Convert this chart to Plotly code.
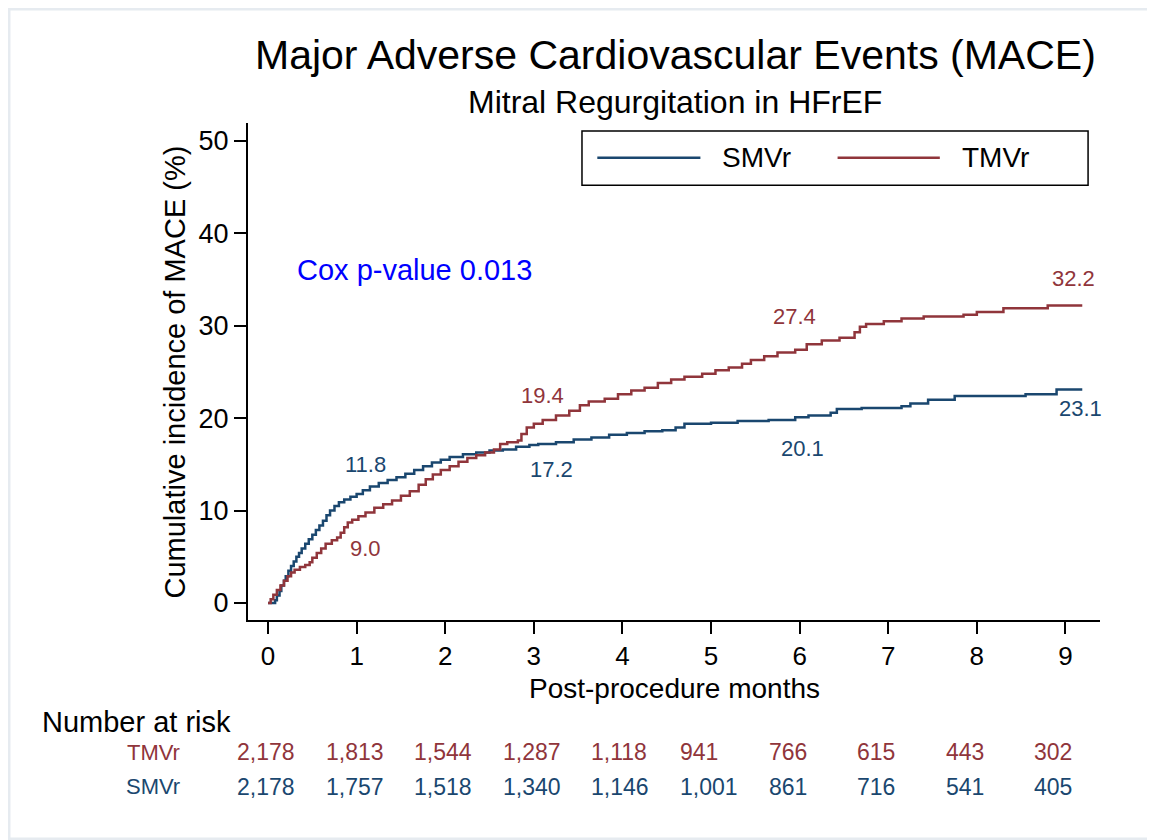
import plotly.graph_objects as go

# cumulative incidence step knots (months, %)
smvr_t = [0.00, 0.08, 0.10, 0.13, 0.15, 0.18, 0.20, 0.23, 0.26, 0.29, 0.32, 0.35, 0.38, 0.42,
          0.46, 0.50, 0.54, 0.58, 0.62, 0.66, 0.70, 0.75, 0.80, 0.86, 0.93, 1.00, 1.07, 1.15,
          1.25, 1.35, 1.45, 1.55, 1.65, 1.75, 1.85, 1.95, 2.05, 2.20, 2.35, 2.50, 2.65, 2.80,
          2.95, 3.05, 3.25, 3.45, 3.65, 3.85, 4.05, 4.25, 4.45, 4.60, 4.70, 5.00, 5.30, 5.65,
          5.95, 6.10, 6.35, 6.42, 6.70, 7.15, 7.25, 7.45, 7.75, 8.55, 8.90, 9.19]
smvr_y = [0.0, 0.3, 0.8, 1.3, 1.9, 2.4, 2.9, 3.5, 4.0, 4.5, 5.0, 5.4, 5.9, 6.4,
          6.9, 7.4, 7.9, 8.4, 8.9, 9.5, 10.0, 10.5, 10.9, 11.2, 11.5, 11.8, 12.2, 12.6,
          13.0, 13.3, 13.6, 14.0, 14.4, 14.8, 15.2, 15.5, 15.8, 16.1, 16.3, 16.5, 16.6, 16.9,
          17.1, 17.2, 17.4, 17.7, 17.9, 18.2, 18.4, 18.6, 18.7, 19.0, 19.4, 19.5, 19.7, 19.8,
          20.1, 20.3, 20.6, 21.0, 21.1, 21.3, 21.6, 22.0, 22.4, 22.6, 23.1, 23.1]

tmvr_t = [0.00, 0.03, 0.06, 0.10, 0.14, 0.18, 0.22, 0.26, 0.30, 0.36, 0.42, 0.47, 0.50, 0.55,
          0.60, 0.65, 0.72, 0.78, 0.82, 0.86, 0.90, 0.95, 1.02, 1.10, 1.20, 1.30, 1.40, 1.50,
          1.60, 1.70, 1.78, 1.86, 1.95, 2.05, 2.15, 2.25, 2.35, 2.45, 2.55, 2.62, 2.70, 2.82,
          2.86, 2.92, 3.00, 3.10, 3.25, 3.40, 3.52, 3.62, 3.80, 3.95, 4.10, 4.25, 4.40, 4.55,
          4.70, 4.90, 5.05, 5.20, 5.35, 5.45, 5.60, 5.75, 5.95, 6.08, 6.25, 6.45, 6.62, 6.68,
          6.75, 6.95, 7.15, 7.40, 7.85, 8.00, 8.30, 8.80, 9.19]
tmvr_y = [0.0, 0.4, 0.9, 1.4, 1.9, 2.4, 2.9, 3.3, 3.6, 3.9, 4.1, 4.4, 4.9, 5.4,
          5.9, 6.4, 6.8, 7.1, 7.6, 8.2, 8.7, 9.0, 9.4, 9.8, 10.3, 10.7, 11.1, 11.6,
          12.1, 12.8, 13.4, 13.9, 14.4, 14.8, 15.3, 15.7, 16.0, 16.3, 16.6, 17.2, 17.4, 17.6,
          18.3, 19.0, 19.4, 19.8, 20.3, 20.8, 21.4, 21.8, 22.1, 22.6, 23.0, 23.3, 23.8, 24.2,
          24.5, 24.8, 25.2, 25.5, 25.9, 26.3, 26.7, 27.1, 27.4, 28.0, 28.4, 28.7, 29.3, 29.9,
          30.2, 30.5, 30.8, 31.0, 31.2, 31.5, 31.9, 32.2, 32.2]

# values printed on the curves at 1, 3, 6 and 9 months
label_months = [1, 3, 6, 9]
smvr_labels = [11.8, 17.2, 20.1, 23.1]
tmvr_labels = [9.0, 19.4, 27.4, 32.2]

# number at risk
risk_months = [0, 1, 2, 3, 4, 5, 6, 7, 8, 9]
tmvr_risk = ["2,178", "1,813", "1,544", "1,287", "1,118", "941", "766", "615", "443", "302"]
smvr_risk = ["2,178", "1,757", "1,518", "1,340", "1,146", "1,001", "861", "716", "541", "405"]

BLUE = "#1a476f"
RED = "#90353b"
FONT = "Liberation Sans, Arial, sans-serif"

fig = go.Figure()

fig.add_trace(go.Scatter(x=smvr_t, y=smvr_y, mode="lines", line=dict(color=BLUE, width=2.5, shape="hv"),
                         name="SMVr", showlegend=False, hoverinfo="skip"))
fig.add_trace(go.Scatter(x=tmvr_t, y=tmvr_y, mode="lines", line=dict(color=RED, width=2.5, shape="hv"),
                         name="TMVr", showlegend=False, hoverinfo="skip"))

# curve labels (pixel offsets from the curve value)
blue_shift = [(9, 29), (18, -25), (3, -31), (15, -19)]
red_shift = [(9, -29), (9, 28), (-5, 33), (8, 27)]
for m, v, (dx, dy) in zip(label_months, smvr_labels, blue_shift):
    fig.add_annotation(x=m, y=v, text=f"{v:.1f}", showarrow=False, xshift=dx, yshift=dy,
                       font=dict(color=BLUE, size=22, family=FONT))
for m, v, (dx, dy) in zip(label_months, tmvr_labels, red_shift):
    fig.add_annotation(x=m, y=v, text=f"{v:.1f}", showarrow=False, xshift=dx, yshift=dy,
                       font=dict(color=RED, size=22, family=FONT))


def note(x, y, text, size, color="black", xanchor="center", **kw):
    fig.add_annotation(x=x, y=y, xref="paper", yref="paper", text=text, showarrow=False,
                       xanchor=xanchor, yanchor="middle", font=dict(color=color, size=size, family=FONT), **kw)


# number at risk table
note(-0.244, -0.205, "Number at risk", 29, xanchor="left")
note(-0.0775, -0.266, "TMVr", 22, RED, xanchor="right")
note(-0.0775, -0.336, "SMVr", 22, BLUE, xanchor="right")
for m, a, b in zip(risk_months, tmvr_risk, smvr_risk):
    fig.add_annotation(x=m, y=-0.266, yref="paper", text=a, showarrow=False, xanchor="left",
                       yanchor="middle", xshift=-33, font=dict(color=RED, size=23, family=FONT))
    fig.add_annotation(x=m, y=-0.336, yref="paper", text=b, showarrow=False, xanchor="left",
                       yanchor="middle", xshift=-33, font=dict(color=BLUE, size=23, family=FONT))

# titles
note(0.502, 1.137, "Major Adverse Cardiovascular Events (MACE)", 41)
note(0.501, 1.042, "Mitral Regurgitation in HFrEF", 32)
note(-0.0857, 0.5, "Cumulative incidence of MACE (%)", 29, textangle=-90)
note(0.501, -0.137, "Post-procedure months", 28)
note(0.055, 0.704, "Cox p-value 0.013", 29, "#0000ff", xanchor="left")

# legend box drawn by hand
fig.add_shape(type="rect", xref="paper", yref="paper", x0=0.392, x1=0.986, y0=0.875, y1=0.984,
              line=dict(color="black", width=1.5), fillcolor="white")
fig.add_shape(type="line", xref="paper", yref="paper", x0=0.410, x1=0.531, y0=0.930, y1=0.930,
              line=dict(color=BLUE, width=2.5))
fig.add_shape(type="line", xref="paper", yref="paper", x0=0.692, x1=0.812, y0=0.930, y1=0.930,
              line=dict(color=RED, width=2.5))
note(0.554, 0.930, "SMVr", 28, xanchor="left")
note(0.836, 0.930, "TMVr", 28, xanchor="left")

# faint outer frame
fig.add_shape(type="rect", xref="paper", yref="paper", x0=-0.2817, x1=1.0646, y0=-0.4427, y1=1.2314,
              line=dict(color="#e6ebf0", width=5), layer="below")

# page body adds an 8px margin, so the figure is 8px smaller on each axis
fig.update_layout(
    width=1147, height=832,
    margin=dict(l=240, r=55, t=115, b=220),
    plot_bgcolor="white", paper_bgcolor="white",
    showlegend=False,
    font=dict(family=FONT, color="black"),
    xaxis=dict(range=[-0.226, 9.39], tickvals=risk_months, ticks="outside", ticklen=12, tickwidth=2,
               tickcolor="black", showline=True, linecolor="black", linewidth=2, showgrid=False,
               zeroline=False, tickfont=dict(size=26, color="black")),
    yaxis=dict(range=[-1.84, 51.95], tickvals=[0, 10, 20, 30, 40, 50], ticks="outside", ticklen=12,
               tickwidth=2, tickcolor="black", showline=True, linecolor="black", linewidth=2,
               showgrid=False, zeroline=False, tickfont=dict(size=27, color="black")),
    yaxis2=dict(range=[-1.84, 51.95], overlaying="y", tickvals=[0, 10, 20, 30, 40], showgrid=True,
                gridcolor="#e8eef2", gridwidth=2, showticklabels=False, ticks="", showline=False,
                zeroline=False),
)

fig.write_html("out.html")
